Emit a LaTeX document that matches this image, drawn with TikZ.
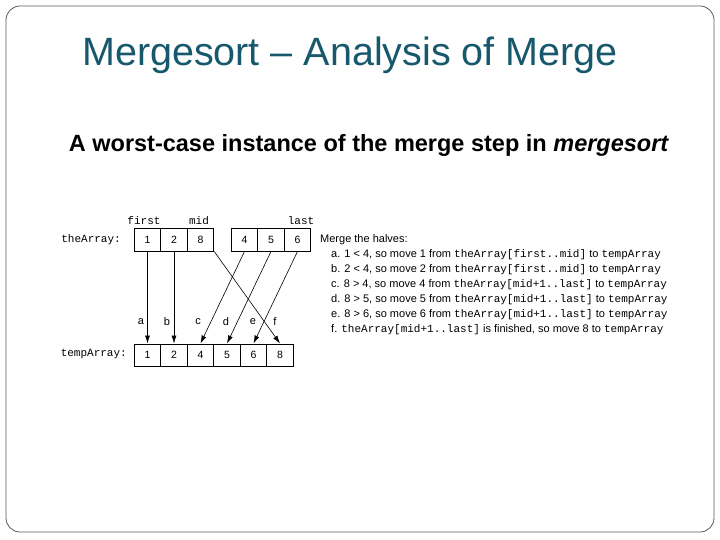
\documentclass[tikz,border=0pt]{standalone}
\usepackage{fontspec}
\setmainfont{Liberation Sans}
\setmonofont{Liberation Mono}
\usetikzlibrary{arrows.meta}
\usetikzlibrary{positioning}
\definecolor{titleteal}{RGB}{23,88,108}

\tikzset{
  cell/.style={draw, line width=1pt, minimum height=22pt, inner sep=0pt, font=\fontsize{10.5}{12}\selectfont},
  move/.style={-{Latex[length=8pt,width=5pt]}, line width=0.6pt},
  steptext/.style={anchor=west, inner sep=0pt, font=\fontsize{11}{13}\selectfont},
  codelabel/.style={inner sep=0pt, font=\ttfamily\fontsize{11}{13}\selectfont}
}

\begin{document}
\begin{tikzpicture}[x=1pt,y=1pt,yscale=-1]
\useasboundingbox (0,0) rectangle (720,540);

% Frame
\draw [gray!70!black, line width=0.8pt, rounded corners=14pt] (6,6) rectangle (714,532);

% Titles
\node (title) at (350,55) [text=titleteal, font=\fontsize{39.5}{44}\selectfont] {Mergesort -- Analysis of Merge};
\node (sub) at (369,145) [font=\bfseries\fontsize{23.5}{27}\selectfont] {A worst-case instance of the merge step in \textit{mergesort}};

% theArray cells
\node [cell, minimum width=26.5pt] (t1) at (147.5,240) {1};
\node [cell, minimum width=26.5pt] (t2) at (174,240) {2};
\node [cell, minimum width=26.5pt] (t3) at (200.5,240) {8};
\node [cell, minimum width=26.5pt] (t4) at (244.5,240) {4};
\node [cell, minimum width=26.5pt] (t5) at (271,240) {5};
\node [cell, minimum width=26.5pt] (t6) at (297.5,240) {6};

% tempArray cells
\foreach \v [count=\i] in {1,2,4,5,6,8}
  \node [cell, minimum width=26.5pt] (b\i) at (147.5+26.5*\i-26.5,355) {\v};

% Array labels
\node [codelabel, anchor=east] (ta) at (121,240) {theArray:};
\node [codelabel, anchor=east] (tb) at (127,354) {tempArray:};
\node [codelabel] (lfirst) at (144,221) {first};
\node [codelabel] (lmid) at (199,221) {mid};
\node [codelabel] (llast) at (301,221) {last};

% Moves
\draw [move] (t1.south) -- (b1.north);
\draw [move] (t2.south) -- (b2.north);
\draw [move] (t4.south) -- (b3.north);
\draw [move] (t5.south) -- (b4.north);
\draw [move] (t6.south) -- (b5.north);
\draw [move] (t3.south east) -- (b6.north);

% Move labels
\foreach \l/\x in {a/141,b/167,c/198,d/226,e/253,f/275}
  \node [steptext, anchor=center] (m\l) at (\x,322) {\l};

% Steps
\node [steptext] (s0) at (320,240) {Merge the halves:};
\node [steptext] (s1) at (331,255) {a. 1 < 4, so move 1 from \texttt{theArray[first..mid]} to \texttt{tempArray}};
\node [steptext] (s2) at (331,270) {b. 2 < 4, so move 2 from \texttt{theArray[first..mid]} to \texttt{tempArray}};
\node [steptext] (s3) at (331,285) {c. 8 > 4, so move 4 from \texttt{theArray[mid+1..last]} to \texttt{tempArray}};
\node [steptext] (s4) at (331,300) {d. 8 > 5, so move 5 from \texttt{theArray[mid+1..last]} to \texttt{tempArray}};
\node [steptext] (s5) at (331,315) {e. 8 > 6, so move 6 from \texttt{theArray[mid+1..last]} to \texttt{tempArray}};
\node [steptext] (s6) at (331,330) {f. \texttt{theArray[mid+1..last]} is finished, so move 8 to \texttt{tempArray}};

\end{tikzpicture}
\end{document}
